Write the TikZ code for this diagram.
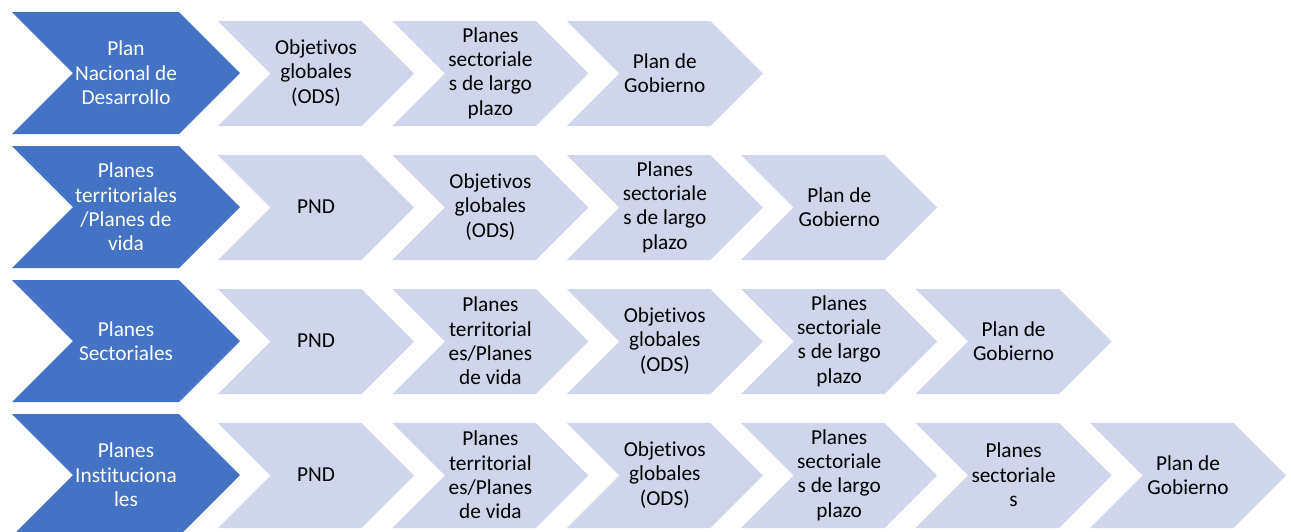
\documentclass[tikz,border=0pt]{standalone}
\usepackage{fontspec}
\setmainfont{Carlito}[Ligatures={NoCommon}]
\definecolor{chevblue}{HTML}{4472C4}
\definecolor{chevlight}{HTML}{CFD5EA}
\newcommand\chevshape[5]{%
  \pgfmathsetmacro\cx{#1}\pgfmathsetmacro\cy{#2}%
  \pgfmathsetmacro\cw{#3}\pgfmathsetmacro\ch{#4}%
  \fill[#5] (\cx,\cy) -- ({\cx+\cw-\ch/2},\cy) -- ({\cx+\cw},{\cy+\ch/2}) -- ({\cx+\cw-\ch/2},{\cy+\ch}) -- (\cx,{\cy+\ch}) -- ({\cx+\ch/2},{\cy+\ch/2}) -- cycle;}
\tikzset{
  bluetxt/.style={text=white, align=center, font=\fontsize{21.3}{24.4}\selectfont, inner sep=0pt},
  lighttxt/.style={text=black, align=center, font=\fontsize{21.3}{24.4}\selectfont, inner sep=0pt}
}
\begin{document}
\begin{tikzpicture}[x=1pt,y=-1pt]
\useasboundingbox (0,0) rectangle (1291,531);
\clip (0,0) rectangle (1291,531);
\fill[white] (0,0) rectangle (1291,531);
% blue chevrons
\foreach \r in {0,1,2,3}{
  \chevshape{12}{12+134*\r}{228}{122}{chevblue}
}
% light chevrons
\foreach \r/\n in {0/3,1/4,2/5,3/6}{
  \foreach \i in {1,...,\n}{
    \chevshape{218+174.4*(\i-1)}{21+134*\r}{196}{105}{chevlight}
  }
}
% row 1
\node[bluetxt] (b1) at (126,73) {Plan\\Nacional de\\Desarrollo};
\node[lighttxt] (r1c1) at ({218+98},73) {Objetivos\\globales\\(ODS)};
\node[lighttxt] (r1c2) at ({218+174.4+98},73) {Planes\\sectoriale\\s de largo\\plazo};
\node[lighttxt] (r1c3) at ({218+2*174.4+98},73) {Plan de\\Gobierno};
% row 2
\node[bluetxt] (b2) at (126,207) {Planes\\territoriales\\/Planes de\\vida};
\node[lighttxt] (r2c1) at ({218+98},207) {PND};
\node[lighttxt] (r2c2) at ({218+174.4+98},207) {Objetivos\\globales\\(ODS)};
\node[lighttxt] (r2c3) at ({218+2*174.4+98},207) {Planes\\sectoriale\\s de largo\\plazo};
\node[lighttxt] (r2c4) at ({218+3*174.4+98},207) {Plan de\\Gobierno};
% row 3
\node[bluetxt] (b3) at (126,341) {Planes\\Sectoriales};
\node[lighttxt] (r3c1) at ({218+98},341) {PND};
\node[lighttxt] (r3c2) at ({218+174.4+98},341) {Planes\\territorial\\es/Planes\\de vida};
\node[lighttxt] (r3c3) at ({218+2*174.4+98},341) {Objetivos\\globales\\(ODS)};
\node[lighttxt] (r3c4) at ({218+3*174.4+98},341) {Planes\\sectoriale\\s de largo\\plazo};
\node[lighttxt] (r3c5) at ({218+4*174.4+98},341) {Plan de\\Gobierno};
% row 4
\node[bluetxt] (b4) at (126,475) {Planes\\Instituciona\\les};
\node[lighttxt] (r4c1) at ({218+98},475) {PND};
\node[lighttxt] (r4c2) at ({218+174.4+98},475) {Planes\\territorial\\es/Planes\\de vida};
\node[lighttxt] (r4c3) at ({218+2*174.4+98},475) {Objetivos\\globales\\(ODS)};
\node[lighttxt] (r4c4) at ({218+3*174.4+98},475) {Planes\\sectoriale\\s de largo\\plazo};
\node[lighttxt] (r4c5) at ({218+4*174.4+98},475) {Planes\\sectoriale\\s};
\node[lighttxt] (r4c6) at ({218+5*174.4+98},475) {Plan de\\Gobierno};
\end{tikzpicture}
\end{document}
